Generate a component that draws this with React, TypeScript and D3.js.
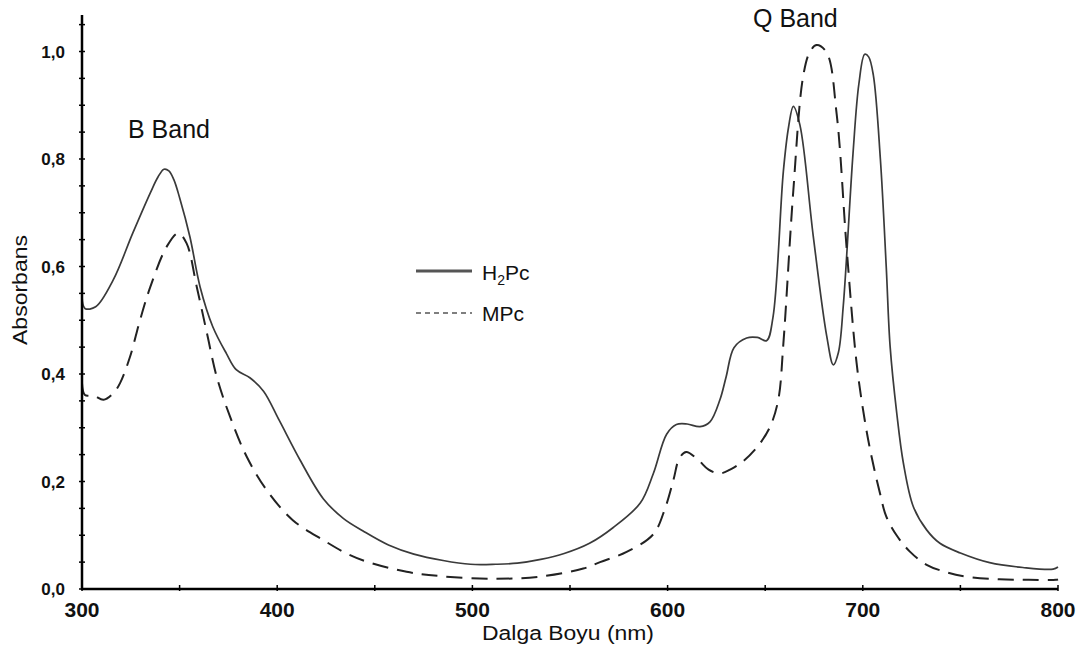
import React from "react";
import * as d3 from "d3";

const h2pcWavelength = [300, 301.5, 307, 316, 326, 335, 339, 342, 344.5, 347, 350, 355.3, 360.5, 367, 374, 379, 386, 393, 401, 411.7, 423.6, 434, 444, 457, 470, 485, 499, 512, 523, 535, 547, 560, 572, 586, 592.7, 599.5, 604.5, 610, 616.6, 621.7, 626.8, 630, 634, 640.5, 646, 650.7, 654, 659.3, 662, 664.4, 667.8, 674.6, 681.5, 684.9, 687.5, 690, 695, 698, 701, 703, 705.4, 709, 712, 714, 717.4, 720.8, 725.9, 732.7, 739.5, 750, 765, 782, 797.5, 800];
const h2pcAbs = [0.545, 0.522, 0.525, 0.575, 0.662, 0.737, 0.767, 0.781, 0.778, 0.762, 0.728, 0.655, 0.562, 0.488, 0.438, 0.408, 0.393, 0.368, 0.314, 0.24, 0.168, 0.131, 0.108, 0.082, 0.065, 0.053, 0.046, 0.046, 0.048, 0.055, 0.066, 0.085, 0.114, 0.16, 0.215, 0.288, 0.306, 0.307, 0.302, 0.311, 0.352, 0.395, 0.449, 0.467, 0.468, 0.462, 0.506, 0.777, 0.86, 0.898, 0.863, 0.657, 0.471, 0.417, 0.44, 0.527, 0.811, 0.94, 0.995, 0.99, 0.956, 0.8, 0.6, 0.451, 0.327, 0.234, 0.153, 0.11, 0.085, 0.067, 0.049, 0.04, 0.037, 0.041];

const mpcWavelength = [300, 301.5, 306, 311, 316, 319.5, 324.6, 329.7, 335, 343.4, 349.3, 353.6, 358.8, 364, 369, 375.8, 384.4, 394.6, 408, 423.6, 435.6, 445.8, 466.3, 483.4, 510.7, 534.6, 556.8, 565.4, 579, 592.7, 598.7, 603, 606, 609.5, 615.7, 621, 626.8, 632, 638.8, 646.5, 652.5, 656.7, 659.3, 664.4, 669.5, 673, 676.4, 681.5, 686.6, 691.7, 696.8, 701, 704.5, 708.8, 712, 717.3, 724, 732.7, 743, 753, 770, 785, 799, 800];
const mpcAbs = [0.383, 0.361, 0.36, 0.352, 0.364, 0.383, 0.432, 0.5, 0.562, 0.637, 0.662, 0.643, 0.562, 0.476, 0.395, 0.321, 0.246, 0.184, 0.128, 0.091, 0.066, 0.051, 0.032, 0.024, 0.019, 0.023, 0.038, 0.05, 0.069, 0.102, 0.15, 0.203, 0.243, 0.255, 0.24, 0.222, 0.215, 0.222, 0.238, 0.267, 0.302, 0.352, 0.456, 0.741, 0.955, 1.0, 1.012, 0.998, 0.884, 0.635, 0.421, 0.314, 0.246, 0.178, 0.135, 0.1, 0.07, 0.045, 0.031, 0.023, 0.018, 0.017, 0.017, 0.018];

const xTickValues = [300, 400, 500, 600, 700, 800];
const xMinorTicks = [300, 350, 400, 450, 500, 550, 600, 650, 700, 750, 800];
const yTickValues = [0, 0.2, 0.4, 0.6, 0.8, 1.0];
const yMinorTicks = [0, 0.05, 0.1, 0.15, 0.2, 0.25, 0.3, 0.35, 0.4, 0.45, 0.5, 0.55, 0.6, 0.65, 0.7, 0.75, 0.8, 0.85, 0.9, 0.95, 1.0, 1.05];

const seriesNames = ["H2Pc", "MPc"];
const xTitle = "Dalga Boyu (nm)";
const yTitle = "Absorbans";
const bandLabels = ["B Band", "Q Band"];

export default function App() {
  const x = d3.scaleLinear().domain([300, 800]).range([82, 1058]);
  const y = d3.scaleLinear().domain([0, 1]).range([589, 51.5]);

  const line = d3
    .line<[number, number]>()
    .x((d) => x(d[0]))
    .y((d) => y(d[1]))
    .curve(d3.curveCatmullRom.alpha(0.5));

  const h2 = h2pcWavelength.map((w, i) => [w, h2pcAbs[i]] as [number, number]);
  const mp = mpcWavelength.map((w, i) => [w, mpcAbs[i]] as [number, number]);

  const fmt = (v: number) => v.toFixed(1).replace(".", ",");
  const font = "'Liberation Sans', Arial, sans-serif";

  return (
    <svg
      width={1087}
      height={651}
      style={{ position: "absolute", left: 0, top: 0, background: "#fff" }}
      fontFamily={font}
    >
      <rect width={1087} height={651} fill="#fff" />
      {/* curves */}
      <path d={line(h2) || ""} fill="none" stroke="#3a3a3a" strokeWidth={1.7} />
      <path
        d={line(mp) || ""}
        fill="none"
        stroke="#222"
        strokeWidth={2}
        strokeDasharray="16 9"
      />

      {/* axes */}
      <line x1={x(300)} x2={x(800)} y1={y(0)} y2={y(0)} stroke="#000" strokeWidth={2.5} />
      <line x1={x(300)} x2={x(300)} y1={15} y2={y(0) + 1} stroke="#000" strokeWidth={2.5} />
      {xMinorTicks.map((t) => (
        <line key={"xt" + t} x1={x(t)} x2={x(t)} y1={y(0) - 4} y2={y(0) + 2} stroke="#000" strokeWidth={1.5} />
      ))}
      {yMinorTicks.map((t) => (
        <line key={"yt" + t} x1={x(300) - 3} x2={x(300) + 3} y1={y(t)} y2={y(t)} stroke="#000" strokeWidth={1.5} />
      ))}
      {xTickValues.map((t) => (
        <text key={"xl" + t} x={x(t)} y={617} textAnchor="middle" fontSize={21} fontWeight="bold" fill="#111">
          {t}
        </text>
      ))}
      {yTickValues.map((t) => (
        <text key={"yl" + t} x={65} y={y(t) + 6} textAnchor="end" fontSize={17} fontWeight="bold" fill="#111">
          {fmt(t)}
        </text>
      ))}
      <text x={568} y={640} textAnchor="middle" fontSize={20} textLength={172} lengthAdjust="spacingAndGlyphs" fill="#111">
        {xTitle}
      </text>
      <text transform="translate(27,290) rotate(-90)" textAnchor="middle" fontSize={20} textLength={110} lengthAdjust="spacingAndGlyphs" fill="#111">
        {yTitle}
      </text>

      {/* band labels */}
      <text x={128} y={138} fontSize={25} fill="#111">
        {bandLabels[0]}
      </text>
      <text x={753} y={27} fontSize={25} fill="#111">
        {bandLabels[1]}
      </text>

      {/* legend */}
      <line x1={416} x2={472} y1={271} y2={271} stroke="#555" strokeWidth={3} />
      <text x={482} y={280} fontSize={21} fill="#111">
        H<tspan fontSize={14} dy={5}>2</tspan>
        <tspan dy={-5}>Pc</tspan>
      </text>
      <line x1={416} x2={472} y1={313} y2={313} stroke="#555" strokeWidth={1.3} strokeDasharray="5 4" />
      <text x={482} y={321} fontSize={21} fill="#111">
        {seriesNames[1]}
      </text>
    </svg>
  );
}
